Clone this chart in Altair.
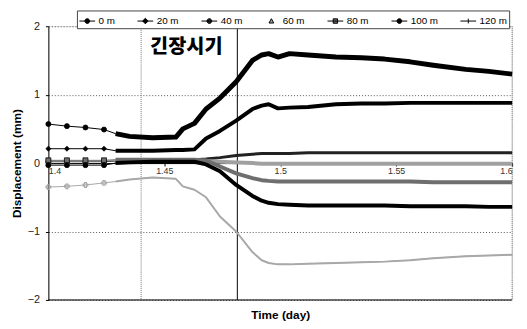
import altair as alt
import pandas as pd

# ---- data ----
times = [1.400, 1.408, 1.416, 1.424, 1.429, 1.435, 1.445, 1.455, 1.458, 1.463,
         1.468, 1.474, 1.481, 1.488, 1.492, 1.495, 1.499, 1.504, 1.512, 1.524,
         1.535, 1.545, 1.556, 1.566, 1.580, 1.590, 1.600]

s_0m = [0.57, 0.54, 0.52, 0.49, 0.43, 0.39, 0.37, 0.38, 0.50, 0.58,
        0.79, 0.95, 1.19, 1.50, 1.58, 1.60, 1.55, 1.60, 1.58, 1.55,
        1.54, 1.52, 1.48, 1.43, 1.37, 1.34, 1.30]
s_20m = [0.21, 0.21, 0.21, 0.21, 0.18, 0.18, 0.18, 0.19, 0.19, 0.20,
         0.36, 0.47, 0.62, 0.79, 0.84, 0.86, 0.80, 0.81, 0.82, 0.86,
         0.87, 0.87, 0.88, 0.88, 0.88, 0.88, 0.88]
s_40m = [0.02, 0.02, 0.02, 0.02, 0.03, 0.03, 0.04, 0.04, 0.04, 0.05,
         0.06, 0.08, 0.11, 0.13, 0.14, 0.14, 0.14, 0.14, 0.15, 0.15,
         0.15, 0.15, 0.15, 0.15, 0.15, 0.15, 0.15]
s_60m = [0.03, 0.03, 0.03, 0.03, 0.04, 0.04, 0.04, 0.04, 0.04, 0.04,
         0.03, 0.02, 0.01, 0.00, -0.01, -0.01, -0.01, -0.01, -0.01, -0.01,
         -0.01, -0.01, -0.01, -0.01, -0.01, -0.01, -0.01]
s_80m = [0.04, 0.04, 0.04, 0.04, 0.05, 0.05, 0.05, 0.05, 0.05, 0.05,
         0.04, -0.05, -0.15, -0.22, -0.25, -0.26, -0.27, -0.27, -0.27, -0.27,
         -0.27, -0.27, -0.27, -0.28, -0.28, -0.28, -0.28]
s_100m = [-0.03, -0.03, -0.03, -0.03, 0.00, 0.01, 0.02, 0.02, 0.02, 0.02,
          -0.02, -0.12, -0.32, -0.48, -0.55, -0.58, -0.60, -0.61, -0.62, -0.62,
          -0.62, -0.62, -0.63, -0.63, -0.63, -0.64, -0.64]
s_120m = [-0.35, -0.34, -0.32, -0.29, -0.27, -0.24, -0.21, -0.23, -0.34, -0.39,
          -0.50, -0.78, -1.00, -1.30, -1.42, -1.46, -1.48, -1.48, -1.47, -1.46,
          -1.45, -1.44, -1.42, -1.39, -1.36, -1.35, -1.34]

series_names = ["0 m", "20 m", "40 m", "60 m", "80 m", "100 m", "120 m"]
series_values = [s_0m, s_20m, s_40m, s_60m, s_80m, s_100m, s_120m]
series_colors = ["#000000", "#000000", "#222222", "#a0a0a0", "#6e6e6e", "#000000", "#a8a8a8"]
thick_widths = [5, 4, 3, 4, 4, 4, 2]
marker_shapes = ["circle", "diamond", "circle", "triangle-up", "square", "circle", "cross"]
legend_paths = [
    "M-1,0H1M-0.3,0A0.3,0.3,0,1,1,0.3,0A0.3,0.3,0,1,1,-0.3,0Z",
    "M-1,0H1M-0.35,0L0,-0.35L0.35,0L0,0.35Z",
    "M-1,0H1M-0.3,0A0.3,0.3,0,1,1,0.3,0A0.3,0.3,0,1,1,-0.3,0Z",
    "M-0.3,0.25L0,-0.3L0.3,0.25Z",
    "M-1,0H1M-0.28,-0.28H0.28V0.28H-0.28Z",
    "M-1,0H1M-0.3,0A0.3,0.3,0,1,1,0.3,0A0.3,0.3,0,1,1,-0.3,0Z",
    "M-1,0H1M0,-0.3V0.3",
]

tension_start = 1.440
tension_end = 1.4815
label_text = "긴장시기"
label_t, label_v = 1.4595, 1.69

rows = []
for name, vals in zip(series_names, series_values):
    for t, v in zip(times, vals):
        rows.append({"series": name, "t": t, "v": v})
df = pd.DataFrame(rows)

FONT = "Liberation Sans"
W, H = 471, 278

xscale = alt.Scale(domain=[1.4, 1.6], nice=False, zero=False)
yscale = alt.Scale(domain=[-2, 2], nice=False)

xenc = alt.X("t:Q", scale=xscale, axis=alt.Axis(
    values=[1.4, 1.45, 1.5, 1.55, 1.6], format=".2~f", offset=-139,
    grid=False, domainColor="#000000", tickColor="#000000", tickSize=3,
    labelFontSize=9, labelColor="#333333", labelFont=FONT, labelPadding=1,
    labelFlush=True, title="Time (day)", titleFont=FONT, titleFontSize=12,
    titleFontWeight="bold", titleColor="#000000", titleY=154,
    titleBaseline="middle"))
yenc = alt.Y("v:Q", scale=yscale, axis=alt.Axis(
    values=[-2, -1, 0, 1, 2], format="d", grid=True, gridColor="#555555",
    gridDash=[1, 2], gridWidth=1, domainColor="#000000", tickColor="#000000",
    tickSize=3, labelFontSize=11, labelColor="#222222", labelFont=FONT,
    labelPadding=6, title="Displacement (mm)", titleFont=FONT,
    titleFontSize=12, titleFontWeight="bold", titleColor="#000000",
    titleX=-32, titleY=139, titleAngle=-90, titleAlign="center",
    titleBaseline="middle"))

base = alt.Chart(df)

layers = []
# frame pieces
frame_df = pd.DataFrame({"k": [0]})
layers.append(alt.Chart(frame_df).mark_rule(color="#000000", strokeWidth=1).encode(
    y=alt.datum(-2, scale=yscale)))
layers.append(alt.Chart(frame_df).mark_rule(color="#777777", strokeWidth=1, strokeDash=[1, 1]).encode(
    x=alt.datum(1.6, scale=xscale)))
layers.append(alt.Chart(frame_df).mark_rule(color="#777777", strokeWidth=1, strokeDash=[1, 1]).encode(
    x=alt.datum(tension_start, scale=xscale)))
layers.append(alt.Chart(frame_df).mark_rule(color="#000000", strokeWidth=1).encode(
    x=alt.datum(tension_end, scale=xscale)))

# data layers
for name, col, tw, shp in zip(series_names, series_colors, thick_widths, marker_shapes):
    sub = base.transform_filter(alt.datum.series == name)
    layers.append(sub.mark_line(color=col, strokeWidth=1).encode(x=xenc, y=yenc))
    layers.append(sub.transform_filter(alt.datum.t >= 1.428).mark_line(
        color=col, strokeWidth=tw, strokeJoin="round").encode(x=xenc, y=yenc))
    if shp in ("triangle-up", "cross"):
        pt = sub.transform_filter(alt.datum.t <= 1.425).mark_point(
            shape=shp, filled=False, color=col, size=22, strokeWidth=1.2, opacity=1)
    else:
        pt = sub.transform_filter(alt.datum.t <= 1.425).mark_point(
            shape=shp, filled=True, fill=col, stroke="#000000", strokeWidth=0.8,
            size=26, opacity=1)
    layers.append(pt.encode(x=xenc, y=yenc))

# annotation
ann_df = pd.DataFrame({"t": [label_t], "v": [label_v], "txt": [label_text]})
layers.append(alt.Chart(ann_df).mark_text(
    font="Noto Sans CJK KR", fontSize=20, fontWeight=900, color="#000000",
    align="center", baseline="middle").encode(
    x=alt.X("t:Q", scale=xscale), y=alt.Y("v:Q", scale=yscale), text="txt:N"))

# legend-only layer
layers.append(base.transform_filter("false").mark_point(
    filled=True, stroke="#000000", strokeWidth=1, opacity=1).encode(
    x=alt.X("t:Q", scale=xscale), y=alt.Y("v:Q", scale=yscale),
    color=alt.Color("series:N", scale=alt.Scale(domain=series_names, range=series_colors),
                    legend=alt.Legend(
                        title=None, orient="none", legendX=29, legendY=-16,
                        direction="horizontal", columns=7, symbolSize=256,
                        symbolStrokeWidth=1, labelFont=FONT, labelFontSize=10,
                        labelColor="#000000", labelOffset=3, columnPadding=20,
                        padding=2, strokeColor="#444444", fillColor="#ffffff")),
    shape=alt.Shape("series:N", scale=alt.Scale(domain=series_names, range=legend_paths))))

chart = alt.layer(*layers).properties(
    width=W, height=H,
    padding={"left": 41, "top": 16, "right": 7, "bottom": 27},
    autosize=alt.AutoSizeParams(type="none"),
).configure_view(stroke=None).configure(background="#ffffff")

chart.save("out.html", embed_options={"renderer": "svg", "actions": False})
